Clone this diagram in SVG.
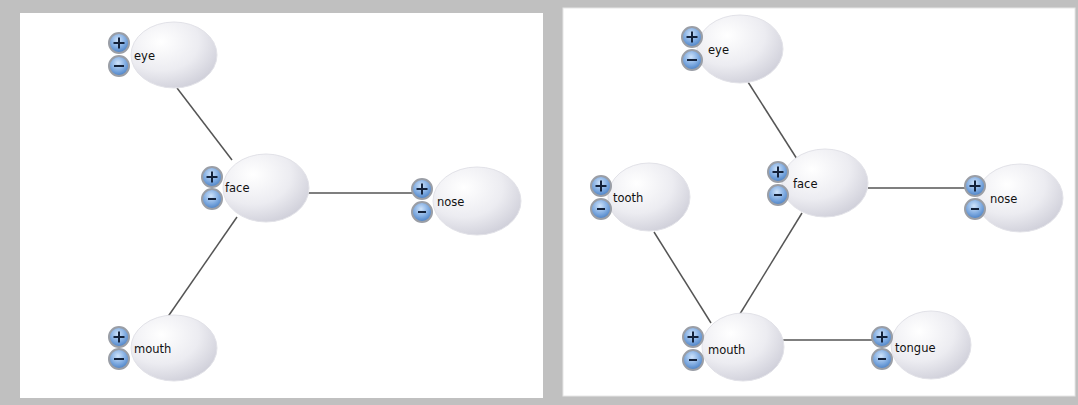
<svg xmlns="http://www.w3.org/2000/svg" width="1078" height="405" viewBox="0 0 1078 405">
<defs>
<radialGradient id="ng" cx="0.35" cy="0.3" r="0.8">
<stop offset="0" stop-color="#ffffff"/>
<stop offset="0.55" stop-color="#ececf1"/>
<stop offset="1" stop-color="#cbcbd6"/>
</radialGradient>
<radialGradient id="bg" cx="0.45" cy="0.35" r="0.7">
<stop offset="0" stop-color="#cfe3fa"/>
<stop offset="0.55" stop-color="#7eaae0"/>
<stop offset="1" stop-color="#3f78c0"/>
</radialGradient>
</defs>
<style>
.node{fill:url(#ng);stroke:#e2e2e8;stroke-width:1}
.btn{fill:url(#bg);stroke:#9a9ea6;stroke-width:2}
.sym{stroke:#14223a;stroke-width:2}
.lbl{font-family:"DejaVu Sans",Verdana,sans-serif;font-size:11.5px;fill:#111}
.edge{stroke:#555;stroke-width:1.5;fill:none}
</style>
<rect x="0" y="0" width="1078" height="405" fill="#c0c0c0"/>
<rect x="20" y="13" width="523" height="385" fill="#ffffff"/>
<rect x="563" y="8" width="512" height="388" fill="#ffffff" stroke="#e6e6e6" stroke-width="1"/>
<g id="connectors">
<line class="edge" x1="177" y1="88" x2="232" y2="160"/>
<line class="edge" x1="308" y1="193" x2="413" y2="193"/>
<line class="edge" x1="237" y1="217" x2="167" y2="318"/>
<line class="edge" x1="748" y1="82" x2="797" y2="159"/>
<line class="edge" x1="868" y1="188" x2="966" y2="188"/>
<line class="edge" x1="654" y1="232" x2="711" y2="323"/>
<line class="edge" x1="802" y1="213" x2="735" y2="322"/>
<line class="edge" x1="782" y1="340" x2="872" y2="340"/>
</g>
<g id="l-eye">
<ellipse class="node" cx="174" cy="55" rx="43" ry="33"/>
<circle class="btn" cx="119" cy="43" r="10"/><path class="sym" d="M113.5 43h11M119 37.5v11"/>
<circle class="btn" cx="119" cy="66" r="10"/><path class="sym" d="M114 66h10"/>
<text class="lbl" x="134" y="60">eye</text>
</g>
<g id="l-face">
<ellipse class="node" cx="266" cy="188" rx="43" ry="34"/>
<circle class="btn" cx="212" cy="177" r="10"/><path class="sym" d="M206.5 177h11M212 171.5v11"/>
<circle class="btn" cx="212" cy="199" r="10"/><path class="sym" d="M208 199h8"/>
<text class="lbl" x="225" y="192">face</text>
</g>
<g id="l-nose">
<ellipse class="node" cx="477" cy="201" rx="44" ry="34"/>
<circle class="btn" cx="422" cy="189" r="10"/><path class="sym" d="M416.5 189h11M422 183.5v11"/>
<circle class="btn" cx="422" cy="212" r="10"/><path class="sym" d="M418 212h8"/>
<text class="lbl" x="437" y="206">nose</text>
</g>
<g id="l-mouth">
<ellipse class="node" cx="174" cy="348" rx="43" ry="33"/>
<circle class="btn" cx="119" cy="337" r="10"/><path class="sym" d="M113.5 337h11M119 331.5v11"/>
<circle class="btn" cx="119" cy="359" r="10"/><path class="sym" d="M114 359h10"/>
<text class="lbl" x="134" y="353">mouth</text>
</g>
<g id="r-eye">
<ellipse class="node" cx="740" cy="49" rx="43" ry="34"/>
<circle class="btn" cx="692" cy="37" r="10"/><path class="sym" d="M686.5 37h11M692 31.5v11"/>
<circle class="btn" cx="692" cy="60" r="10"/><path class="sym" d="M687 60h10"/>
<text class="lbl" x="708" y="54">eye</text>
</g>
<g id="r-face">
<ellipse class="node" cx="825" cy="183" rx="43" ry="34"/>
<circle class="btn" cx="778" cy="172" r="10"/><path class="sym" d="M772.5 172h11M778 166.5v11"/>
<circle class="btn" cx="778" cy="195" r="10"/><path class="sym" d="M774 195h8"/>
<text class="lbl" x="793" y="188">face</text>
</g>
<g id="r-nose">
<ellipse class="node" cx="1020" cy="198" rx="43" ry="34"/>
<circle class="btn" cx="975" cy="186" r="10"/><path class="sym" d="M969.5 186h11M975 180.5v11"/>
<circle class="btn" cx="975" cy="209" r="10"/><path class="sym" d="M971 209h8"/>
<text class="lbl" x="990" y="203">nose</text>
</g>
<g id="r-tooth">
<ellipse class="node" cx="649" cy="197" rx="41" ry="34"/>
<circle class="btn" cx="601" cy="186" r="10"/><path class="sym" d="M595.5 186h11M601 180.5v11"/>
<circle class="btn" cx="601" cy="209" r="10"/><path class="sym" d="M597 209h8"/>
<text class="lbl" x="613" y="202">tooth</text>
</g>
<g id="r-mouth">
<ellipse class="node" cx="743" cy="347" rx="41" ry="34"/>
<circle class="btn" cx="693" cy="337" r="10"/><path class="sym" d="M687.5 337h11M693 331.5v11"/>
<circle class="btn" cx="693" cy="360" r="10"/><path class="sym" d="M689 360h8"/>
<text class="lbl" x="708" y="354">mouth</text>
</g>
<g id="r-tongue">
<ellipse class="node" cx="931" cy="345" rx="40" ry="34"/>
<circle class="btn" cx="882" cy="337" r="10"/><path class="sym" d="M876.5 337h11M882 331.5v11"/>
<circle class="btn" cx="882" cy="359" r="10"/><path class="sym" d="M878 359h8"/>
<text class="lbl" x="895" y="352">tongue</text>
</g>
</svg>
